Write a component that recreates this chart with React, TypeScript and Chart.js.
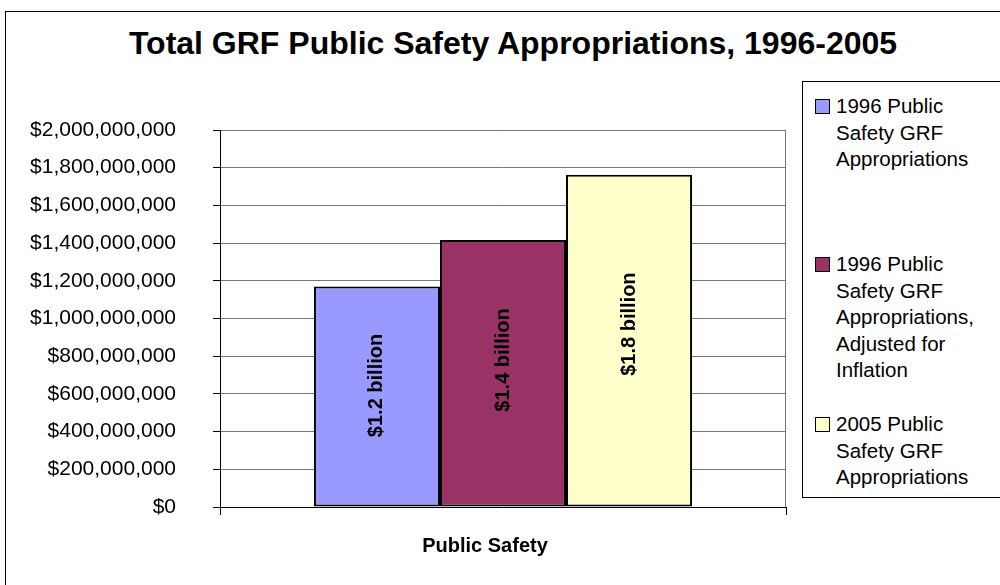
import React, { useEffect, useRef } from "react";
import { Chart, registerables } from "chart.js";

Chart.register(...registerables);

const title = "Total GRF Public Safety Appropriations, 1996-2005";
const categories = ["Public Safety"];
const seriesLabels = [
  "1996 Public Safety GRF Appropriations",
  "1996 Public Safety GRF Appropriations, Adjusted for Inflation",
  "2005 Public Safety GRF Appropriations",
];
const values1996 = [1170000000];
const values1996Adjusted = [1416000000];
const values2005 = [1762000000];
const barLabels = ["$1.2 billion", "$1.4 billion", "$1.8 billion"];
const seriesColors = ["#9999FF", "#993366", "#FFFFCC"];
const yMax = 2000000000;
const yStep = 200000000;

const FONT = "'Liberation Sans', Arial, Helvetica, sans-serif";

const barLabelPlugin = {
  id: "barLabelPlugin",
  beforeDatasetsDraw(chart: any) {
    const { ctx, chartArea } = chart;
    ctx.save();
    ctx.strokeStyle = "#777";
    ctx.lineWidth = 1;
    ctx.beginPath();
    ctx.moveTo(Math.round(chartArea.right) - 0.5, chartArea.top);
    ctx.lineTo(Math.round(chartArea.right) - 0.5, chartArea.bottom);
    ctx.stroke();
    ctx.restore();
  },
  afterDatasetsDraw(chart: any) {
    const { ctx } = chart;
    chart.data.datasets.forEach((ds: any, i: number) => {
      const meta = chart.getDatasetMeta(i);
      meta.data.forEach((bar: any) => {
        const cy = bar.y + (bar.base - bar.y) * 0.45;
        ctx.save();
        ctx.translate(bar.x, cy);
        ctx.rotate(-Math.PI / 2);
        ctx.font = `bold 20px ${FONT}`;
        ctx.fillStyle = "#000";
        ctx.textAlign = "center";
        ctx.textBaseline = "middle";
        ctx.fillText(barLabels[i], 0, 0);
        ctx.restore();
      });
    });
  },
};

export default function App() {
  const canvasRef = useRef<HTMLCanvasElement | null>(null);

  useEffect(() => {
    const canvas = canvasRef.current;
    if (!canvas) return;
    const seriesValues = [values1996, values1996Adjusted, values2005];
    const chart = new Chart(canvas, {
      type: "bar",
      data: {
        labels: categories,
        datasets: seriesLabels.map((label, i) => ({
          label,
          data: seriesValues[i],
          backgroundColor: seriesColors[i],
          borderColor: "#000",
          borderWidth: 2,
          borderSkipped: false,
          categoryPercentage: 0.668,
          barPercentage: 1.0,
        })),
      },
      options: {
        responsive: false,
        animation: false,
        devicePixelRatio: 1,
        layout: { padding: { left: 0, top: 130, right: 214, bottom: 18 } },
        plugins: {
          legend: { display: false },
          title: { display: false },
          tooltip: { enabled: false },
        },
        scales: {
          x: {
            offset: true,
            grid: {
              display: true,
              offset: true,
              drawOnChartArea: false,
              drawTicks: true,
              tickLength: 8,
              tickColor: "#000",
            },
            border: { display: true, color: "#000", width: 1 },
            ticks: {
              color: "#000",
              font: { family: FONT, size: 20, weight: "bold" },
              padding: 19,
              labelOffset: -18,
              maxRotation: 0,
            },
            afterFit: (scale: any) => {
              scale.height = 60;
            },
          },
          y: {
            min: 0,
            max: yMax,
            grid: {
              color: "#777",
              lineWidth: 1,
              tickColor: "#000",
              tickLength: 7,
            },
            border: { display: true, color: "#000", width: 1 },
            ticks: {
              stepSize: yStep,
              color: "#000",
              padding: 37,
              font: { family: FONT, size: 21 },
              callback: (v: any) => "$" + Number(v).toLocaleString("en-US"),
            },
            afterFit: (scale: any) => {
              scale.width = 220;
            },
          },
        },
      },
      plugins: [barLabelPlugin],
    });
    return () => chart.destroy();
  }, []);

  const legendTops = [93, 251, 411];

  return (
    <div
      style={{
        position: "absolute",
        left: 0,
        top: 0,
        width: 1000,
        height: 585,
        overflow: "hidden",
        background: "#fff",
        fontFamily: FONT,
      }}
    >
      <div
        style={{
          position: "absolute",
          left: 5,
          top: 11,
          width: 1100,
          height: 700,
          border: "1px solid #000",
          boxSizing: "border-box",
        }}
      />
      <div
        style={{
          position: "absolute",
          left: 13,
          top: 25,
          width: 1000,
          textAlign: "center",
          whiteSpace: "nowrap",
          fontSize: 32,
          fontWeight: "bold",
          lineHeight: "36px",
          color: "#000",
        }}
      >
        {title}
      </div>
      <canvas
        ref={canvasRef}
        width={1000}
        height={585}
        style={{ position: "absolute", left: 0, top: 0, width: 1000, height: 585 }}
      />
      <div
        style={{
          position: "absolute",
          left: 802,
          top: 81,
          width: 300,
          height: 417,
          border: "1px solid #000",
          boxSizing: "border-box",
          background: "#fff",
        }}
      />
      {seriesLabels.map((label, i) => (
        <div
          key={label}
          style={{
            position: "absolute",
            left: 815,
            top: legendTops[i],
            display: "flex",
            alignItems: "flex-start",
          }}
        >
          <div
            style={{
              width: 13,
              height: 13,
              marginTop: 6,
              marginRight: 6,
              background: seriesColors[i],
              border: "1.5px solid #000",
              flex: "none",
            }}
          />
          <div
            style={{
              width: 150,
              fontSize: 20.5,
              lineHeight: "26.5px",
              color: "#000",
            }}
          >
            {label}
          </div>
        </div>
      ))}
    </div>
  );
}
